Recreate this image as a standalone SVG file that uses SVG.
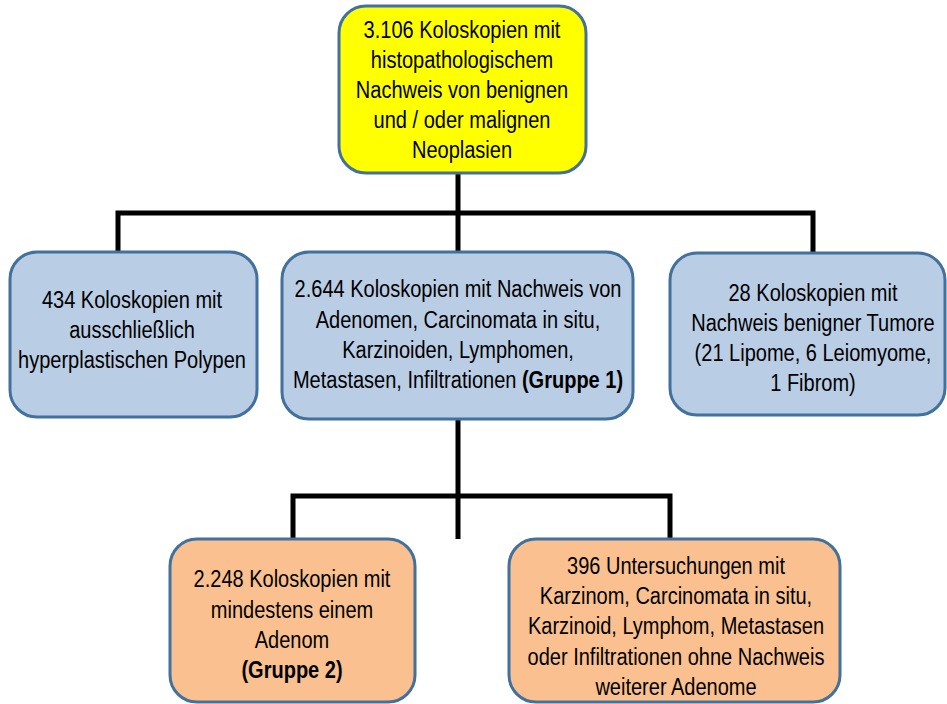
<svg xmlns="http://www.w3.org/2000/svg" width="947" height="704" viewBox="0 0 947 704">
<defs>
<style>
.box{stroke:#41719C;stroke-width:3}
.yel{fill:#FFFF00}
.blu{fill:#B9CDE5}
.org{fill:#FAC090}
.t{font-family:"Liberation Sans",Arial,sans-serif;font-size:23px;fill:#000;text-anchor:middle}
.b{font-weight:bold}
.c{fill:none;stroke:#000;stroke-width:5;stroke-linejoin:miter}
</style>
</defs>
<rect width="947" height="704" fill="#fff"/>
<g id="connectors">
<path class="c" d="M458 173 V252"/>
<path class="c" d="M118 252 V213 H813 V253"/>
<path class="c" d="M458 420 V539"/>
<path class="c" d="M293 539 V496 H670 V539"/>
</g>
<g id="n0">
<rect class="box yel" x="339" y="6" width="247" height="167" rx="27"/>
<g class="t" transform="translate(462 0) scale(0.87 1)">
<text y="38">3.106 Koloskopien mit</text>
<text y="68">histopathologischem</text>
<text y="98">Nachweis von benignen</text>
<text y="128">und / oder malignen</text>
<text y="158">Neoplasien</text>
</g>
</g>
<g id="n1">
<rect class="box blu" x="10" y="252" width="247" height="165" rx="27"/>
<g class="t" transform="translate(132 0) scale(0.87 1)">
<text y="308">434 Koloskopien mit</text>
<text y="338">ausschließlich</text>
<text y="368">hyperplastischen Polypen</text>
</g>
</g>
<g id="n2">
<rect class="box blu" x="282" y="252" width="351" height="167" rx="27"/>
<g class="t" transform="translate(458 0) scale(0.87 1)">
<text y="297">2.644 Koloskopien mit Nachweis von</text>
<text y="328">Adenomen, Carcinomata in situ,</text>
<text y="358">Karzinoiden, Lymphomen,</text>
<text y="388">Metastasen, Infiltrationen <tspan class="b">(Gruppe 1)</tspan></text>
</g>
</g>
<g id="n3">
<rect class="box blu" x="670" y="253" width="275" height="162" rx="27"/>
<g class="t" transform="translate(813 0) scale(0.87 1)">
<text y="301">28 Koloskopien mit</text>
<text y="331">Nachweis benigner Tumore</text>
<text y="361">(21 Lipome, 6 Leiomyome,</text>
<text y="391">1 Fibrom)</text>
</g>
</g>
<g id="n4">
<rect class="box org" x="170" y="539" width="245" height="163" rx="27"/>
<g class="t" transform="translate(292 0) scale(0.87 1)">
<text y="587">2.248 Koloskopien mit</text>
<text y="618">mindestens einem</text>
<text y="648">Adenom</text>
<text y="678" class="b">(Gruppe 2)</text>
</g>
</g>
<g id="n5">
<rect class="box org" x="509" y="539" width="331" height="163" rx="27"/>
<g class="t" transform="translate(676 0) scale(0.87 1)">
<text y="574">396 Untersuchungen mit</text>
<text y="604">Karzinom, Carcinomata in situ,</text>
<text y="634">Karzinoid, Lymphom, Metastasen</text>
<text y="665">oder Infiltrationen ohne Nachweis</text>
<text y="695">weiterer Adenome</text>
</g>
</g>
</svg>
